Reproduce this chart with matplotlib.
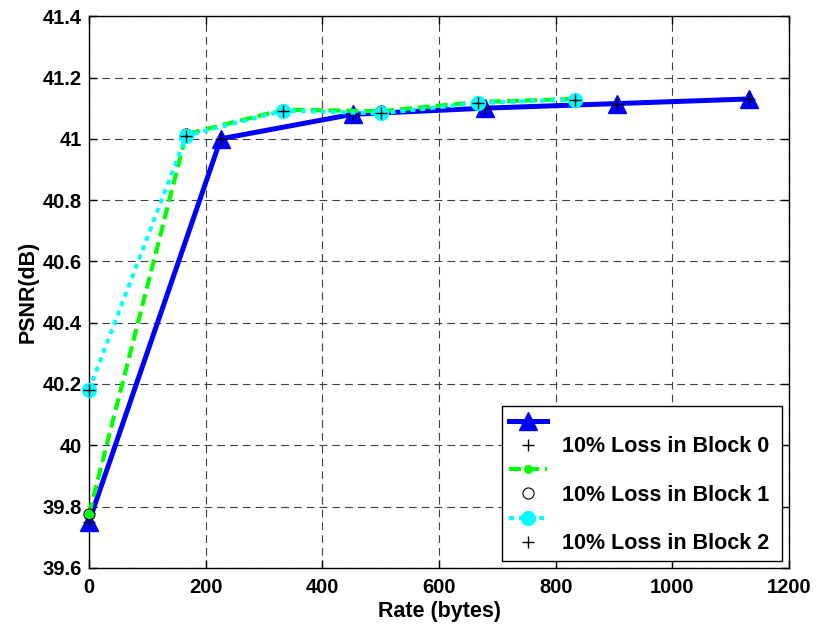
import numpy as np
import matplotlib.pyplot as plt

plt.rcParams['font.family'] = ['Liberation Sans', 'DejaVu Sans']
plt.rcParams['font.weight'] = 'bold'

# rate (bytes) and PSNR (dB) for each loss case
rate0 = [0, 226, 452, 679, 905, 1131]
psnr0 = [39.75, 41.00, 41.08, 41.10, 41.115, 41.13]

rate1 = [0, 166.7, 333.3, 500, 666.7, 833.3]
psnr1 = [39.775, 41.015, 41.095, 41.09, 41.12, 41.13]

rate2 = [0, 166.7, 333.3, 500, 666.7, 833.3]
psnr2 = [40.18, 41.01, 41.092, 41.083, 41.117, 41.128]

labels = ['', '10% Loss in Block 0 ', '', '10% Loss in Block 1 ', '', '10% Loss in Block 2 ']

fig = plt.figure(figsize=(8.16, 6.24), dpi=100)
ax = fig.add_axes([0.109, 0.09, 0.858, 0.884])

h1, = ax.plot(rate0, psnr0, color='blue', lw=3.6, marker='^', ms=13, zorder=3, clip_on=False)
h2, = ax.plot(rate0, psnr0, 'k+', ms=8, mew=1, zorder=4, clip_on=False)
h3, = ax.plot(rate1, psnr1, color='#00ff00', lw=3, dashes=(2.9, 1.4), marker='.', ms=11,
              zorder=5, clip_on=False)
h4, = ax.plot(rate1, psnr1, 'ko', mfc='none', ms=8, mew=0.8, zorder=6, clip_on=False)
h5, = ax.plot(rate2, psnr2, color='cyan', lw=3, dashes=(1.2, 1.2), dash_capstyle='butt',
              marker='o', ms=10, zorder=7, clip_on=False)
h6, = ax.plot(rate2, psnr2, 'k+', ms=8, mew=1, zorder=8, clip_on=False)

ax.set_xlim(0, 1200)
ax.set_ylim(39.6, 41.4)
ax.set_xticks(np.arange(0, 1201, 200))
ax.set_yticks(np.arange(39.6, 41.41, 0.2))
ax.set_yticklabels(['39.6', '39.8', '40', '40.2', '40.4', '40.6', '40.8', '41', '41.2', '41.4'])
ax.tick_params(direction='in', length=6, width=1, top=True, right=True, labelsize=14.5)
ax.tick_params(axis='x', pad=7)
ax.tick_params(axis='y', pad=5)
for lbl in ax.get_xticklabels() + ax.get_yticklabels():
    lbl.set_fontweight('bold')
for s in ax.spines.values():
    s.set_linewidth(1)

ax.grid(True, color='#404040', lw=0.8, linestyle=(0, (7, 4.5)))
ax.set_axisbelow(True)

ax.set_xlabel('Rate (bytes)', fontsize=15.5, fontweight='bold', labelpad=3)
ax.set_ylabel('PSNR(dB)', fontsize=15.5, fontweight='bold', labelpad=3)

leg = ax.legend([h1, h2, h3, h4, h5, h6], labels, loc='lower right',
                bbox_to_anchor=(0.99, 0.0127), borderaxespad=0, fontsize=15.5,
                fancybox=False, edgecolor='black', framealpha=1, handlelength=1.8,
                labelspacing=0.15, borderpad=0.3, handletextpad=0.7)
leg.get_frame().set_linewidth(1)
for t in leg.get_texts():
    t.set_fontweight('bold')

fig.savefig('out.png', dpi=100)
